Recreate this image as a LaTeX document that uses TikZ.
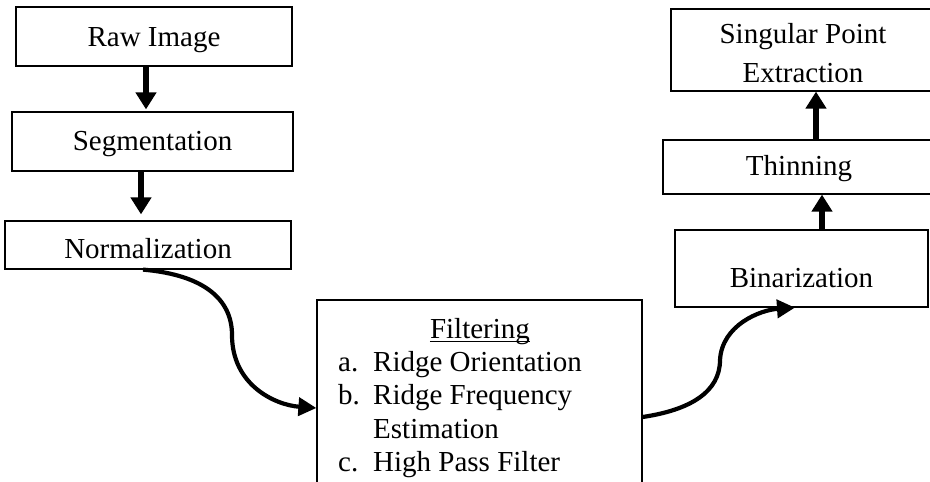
\documentclass[tikz,border=0pt]{standalone}
\usepackage{fontspec}
\setmainfont{Liberation Serif}
\usetikzlibrary{arrows.meta}
\begin{document}
\begin{tikzpicture}[x=1pt,y=-1pt,
  box/.style={draw, line width=1.2pt, inner sep=0pt},
  txt/.style={inner sep=0pt, anchor=base west},
  arr/.style={line width=5.5pt, -{Triangle[length=17pt,width=20pt]}},
  carr/.style={line width=4.2pt, -{Triangle[length=18pt,width=18pt]}},
  font=\fontsize{29}{33}\selectfont]
\useasboundingbox (0,0) rectangle (930,482);
\clip (0,0) rectangle (930,482);
% left column
\node[box, minimum width=276pt, minimum height=59pt, text height=19pt, text depth=0pt] (raw) at (154,36.5) {Raw Image};
\node[box, minimum width=281pt, minimum height=59pt, text height=17pt, text depth=0pt] (seg) at (152.5,141.5) {Segmentation};
\node[box, minimum width=286pt, minimum height=48pt, text height=26pt, text depth=0pt] (norm) at (148,245) {Normalization};
% filtering box
\node[box, minimum width=325pt, minimum height=230pt] (filt) at (479.5,415) {};
\node[txt, anchor=base] (ft) at (480,338) {Filtering};
\draw[line width=1.3pt] ([yshift=-3.5pt]ft.base west) -- ([yshift=-3.5pt]ft.base east);
\node[txt] (fa) at (338,371) {a.};
\node[txt] (fa2) at (373,371) {Ridge Orientation};
\node[txt] (fb) at (338,404) {b.};
\node[txt] (fb2) at (373,404) {Ridge Frequency};
\node[txt] (fb3) at (373,438) {Estimation};
\node[txt] (fc) at (338,471) {c.};
\node[txt] (fc2) at (373,471) {High Pass Filter};
% right column
\node[box, minimum width=253pt, minimum height=77pt, text height=37pt, text depth=0pt] (bin) at (801.5,268.5) {Binarization};
\node[box, minimum width=272pt, minimum height=54pt, text height=16pt, text depth=0pt] (thin) at (799,167) {Thinning};
\node[box, minimum width=264pt, minimum height=82pt, align=center, font=\fontsize{29}{39}\selectfont] (sing) at (803,50) {\rule{0pt}{26pt}Singular Point\\Extraction};
% arrows
\draw[arr] ([xshift=-8pt]raw.south) -- ([xshift=-8pt,yshift=2pt]raw.south |- seg.north);
\draw[arr] ([xshift=-11.5pt]seg.south) -- ([xshift=-11.5pt,yshift=6pt]seg.south |- norm.north);
\draw[arr] ([xshift=20.5pt]bin.north) -- ([xshift=20.5pt]bin.north |- thin.south);
\draw[arr] ([xshift=17pt]thin.north) -- ([xshift=17pt]thin.north |- sing.south);
\draw[carr] ([xshift=-5pt]norm.south) .. controls (205,275) and (232,300) .. (232,335)
  .. controls (232,385) and (275,405) .. ([yshift=7pt]filt.west);
\draw[carr] ([yshift=-2pt]filt.east) .. controls (690,410) and (720,392) .. (720,360)
  .. controls (722,325) and (760,310) .. ([xshift=-6.5pt]bin.south);
\end{tikzpicture}
\end{document}
